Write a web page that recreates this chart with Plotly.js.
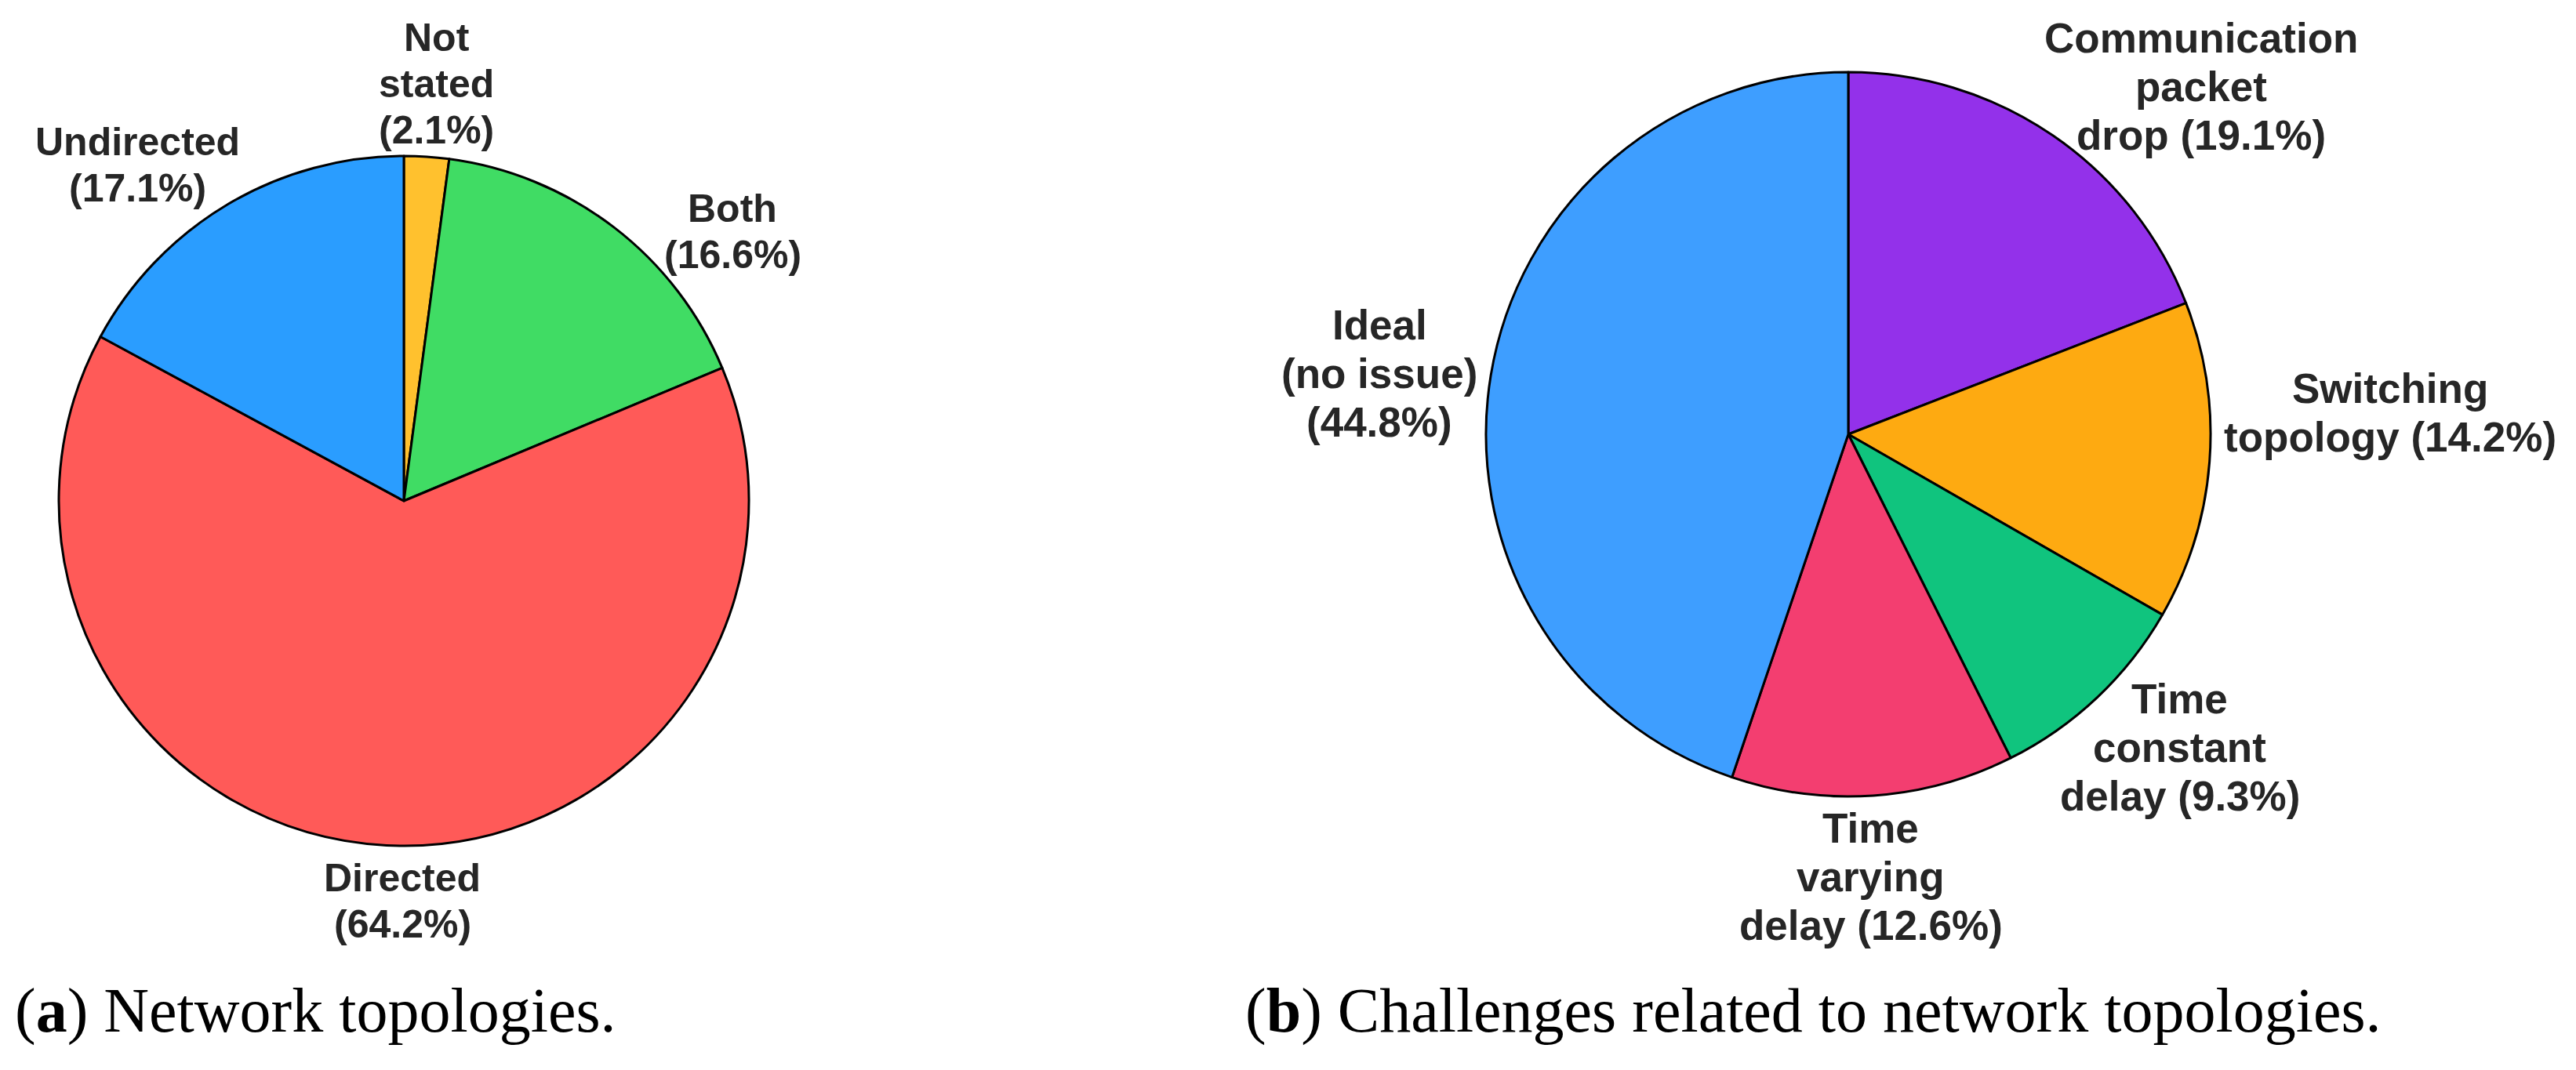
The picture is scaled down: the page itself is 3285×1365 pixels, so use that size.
<!DOCTYPE html>
<html>
<head>
<meta charset="utf-8">
<script src="https://cdn.plot.ly/plotly-3.0.1.min.js"></script>
<style>
  html, body { margin: 0; padding: 0; background: #ffffff; }
  #chart { width: 3285px; height: 1365px; }
</style>
</head>
<body>
<div id="chart"></div>
<script>
// (a) Network topologies
const topoLabels = ['Not<br>stated', 'Both', 'Directed', 'Undirected'];
const topoValues = [2.1, 16.6, 64.2, 17.1];
const topoSep = ['<br>', '<br>', '<br>', '<br>'];
const topoColors = ['#FFC12E', '#40DC64', '#FF5A58', '#2A9DFF'];

// (b) Challenges related to network topologies
const chalLabels = ['Communication<br>packet<br>drop', 'Switching<br>topology', 'Time<br>constant<br>delay', 'Time<br>varying<br>delay', 'Ideal<br>(no issue)'];
const chalValues = [19.1, 14.2, 9.3, 12.6, 44.8];
const chalSep = [' ', ' ', ' ', ' ', '<br>'];
const chalColors = ['#9331EA', '#FEAA11', '#10C47E', '#F33E70', '#3E9EFF'];

const captions = ['(<b>a</b>) Network topologies.', '(<b>b</b>) Challenges related to network topologies.'];

// layout: label placement relative to each slice's mid-angle [angle shift in degrees, distance in radii]
const topoPlace = [[0.7, 1.213], [13.2, 1.232], [-2.66, 1.161], [-7.65, 1.243]];
const chalPlace = [[11.07, 1.367], [-6.56, 1.497], [-3.22, 1.260], [1.02, 1.224], [-2.02, 1.305]];

const W = 3285, H = 1365;
const fontA = { family: 'Liberation Sans, Arial, sans-serif', size: 50, color: '#262626', weight: 'bold' };
const fontB = { family: 'Liberation Sans, Arial, sans-serif', size: 53, color: '#262626', weight: 'bold' };

const domA = { x: [0.02283, 0.29072], y: [0.20952, 0.85421] };
const domB = { x: [0.57686, 0.85814], y: [0.25568, 0.93260] };

function labelAnnotations(labels, values, sep, domain, place, font, lineGap) {
  const total = values.reduce((a, b) => a + b, 0);
  const cx = (domain.x[0] + domain.x[1]) / 2 * W;
  const cy = (1 - (domain.y[0] + domain.y[1]) / 2) * H;
  const r = Math.min((domain.x[1] - domain.x[0]) * W, (domain.y[1] - domain.y[0]) * H) / 2;
  const anns = [];
  let cum = 0;
  values.forEach((v, i) => {
    const mid = (cum + v / 2) / total * 360;
    cum += v;
    const ang = (mid + place[i][0]) * Math.PI / 180;
    const d = place[i][1] * r;
    const x = cx + d * Math.sin(ang);
    const y = cy - d * Math.cos(ang);
    const text = labels[i] + sep[i] + '(' + (v / total * 100).toFixed(1) + '%)';
    const lines = text.split('<br>');
    lines.forEach((ln, j) => {
      const ly = y + (j - (lines.length - 1) / 2) * lineGap;
      anns.push({
        text: ln, xref: 'paper', yref: 'paper', x: x / W, y: 1 - ly / H,
        xanchor: 'center', yanchor: 'middle', showarrow: false, font: font
      });
    });
  });
  return anns;
}

const common = {
  type: 'pie',
  sort: false,
  direction: 'clockwise',
  rotation: 0,
  textinfo: 'none',
  textposition: 'none',
  hoverinfo: 'skip',
  automargin: false,
  showlegend: false
};

const traces = [
  Object.assign({}, common, {
    labels: topoLabels,
    values: topoValues,
    marker: { colors: topoColors, line: { color: '#000000', width: 3 } },
    domain: domA
  }),
  Object.assign({}, common, {
    labels: chalLabels,
    values: chalValues,
    marker: { colors: chalColors, line: { color: '#000000', width: 3 } },
    domain: domB
  })
];

const capFont = { family: 'Liberation Serif, Times New Roman, serif', size: 80, color: '#000000' };

const annotations = []
  .concat(labelAnnotations(topoLabels, topoValues, topoSep, domA, topoPlace, fontA, 59))
  .concat(labelAnnotations(chalLabels, chalValues, chalSep, domB, chalPlace, fontB, 62))
  .concat([
    { text: captions[0], xref: 'paper', yref: 'paper', x: 17 / W, y: 1 - 1289 / H, xanchor: 'left', yanchor: 'middle', showarrow: false, font: capFont },
    { text: captions[1], xref: 'paper', yref: 'paper', x: 1586 / W, y: 1 - 1289 / H, xanchor: 'left', yanchor: 'middle', showarrow: false, font: capFont }
  ]);

const layout = {
  width: W,
  height: H,
  margin: { l: 0, r: 0, t: 0, b: 0 },
  paper_bgcolor: '#ffffff',
  plot_bgcolor: '#ffffff',
  showlegend: false,
  annotations: annotations
};

Plotly.newPlot('chart', traces, layout, { staticPlot: true, displayModeBar: false });
</script>
</body>
</html>
